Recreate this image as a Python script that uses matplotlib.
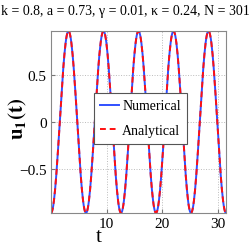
import numpy as np
import matplotlib
matplotlib.use("Agg")
import matplotlib.pyplot as plt

# model parameters shown in the title
k, a, gamma, kappa, N = 0.8, 0.73, 0.01, 0.24, 301
amp = 0.97          # oscillation amplitude
t_end = 10 * np.pi  # time window

xticks = [10, 20, 30]
yticks = [-0.5, 0, 0.5]

t = np.linspace(0, t_end, N)
u_num = -amp * np.cos(t)
u_ana = -amp * np.cos(t)

plt.rcParams["font.family"] = ["Liberation Serif", "DejaVu Serif"]
plt.rcParams["mathtext.fontset"] = "stix"

W = 251
fig = plt.figure(figsize=(2.51, 2.51), dpi=100)
ax = fig.add_axes([51 / W, 1 - 214 / W, 175 / W, 182 / W])

ax.plot(t, u_num, color="#3050ff", lw=1.4, label="Numerical")
ax.plot(t, u_ana, color="#ff1010", lw=1.4, ls=(0, (3, 2)), label="Analytical")

ax.set_xlim(0, t_end)
ax.set_ylim(-amp, amp)
ax.set_xticks(xticks)
ax.set_yticks(yticks)
ax.set_yticklabels(["\u22120.5", "0", "0.5"])
ax.tick_params(direction="in", length=3, labelsize=11, color="#777777", pad=3)
ax.grid(True, ls=":", color="#bbbbbb", lw=0.7)
for s in ax.spines.values():
    s.set_color("#888888")
    s.set_linewidth(0.8)

# labels placed where the original had them
fig.text(99 / W, 1 - 238 / W, "t", fontsize=15, ha="center", va="center")
fig.text(18 / W, 1 - 119 / W, r"$\mathbf{u_1(t)}$", fontsize=15,
         rotation=90, ha="center", va="center")
fig.text(125 / W, 1 - 11 / W,
         f"k = {k}, a = {a}, \u03b3 = {gamma}, \u03ba = {kappa}, N = {N}",
         fontsize=10, ha="center", va="center")

leg = ax.legend(loc="center", fontsize=10, handlelength=1.4, handletextpad=0.2,
                borderpad=0.45, labelspacing=0.85, fancybox=False, framealpha=1,
                edgecolor="#555555", bbox_to_anchor=(0.51, 0.52))
leg.get_frame().set_linewidth(0.8)

fig.savefig("out.png", dpi=100)
